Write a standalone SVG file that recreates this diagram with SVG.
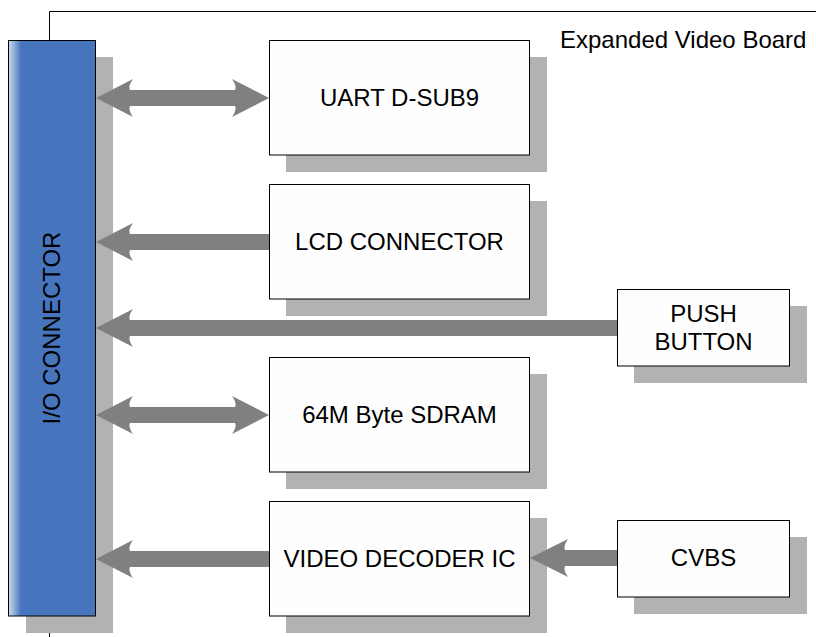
<svg xmlns="http://www.w3.org/2000/svg" width="816" height="637" viewBox="0 0 816 637">
<defs>
<linearGradient id="blueGrad" x1="8" y1="0" x2="96" y2="0" gradientUnits="userSpaceOnUse">
<stop offset="0" stop-color="#d2def0"/>
<stop offset="0.15" stop-color="#4675be"/>
<stop offset="1" stop-color="#4675be"/>
</linearGradient>
<style>
.shadow{fill:#b2b2b2;stroke:none}
.box{fill:#fefefe;stroke:#000;stroke-width:1}
.arrow{fill:#808080;stroke:none}
.lbl{font-family:"Liberation Sans",Arial,sans-serif;font-size:24px;fill:#000;text-anchor:middle}
.frame{fill:none;stroke:#000;stroke-width:1}
</style>
</defs>
<rect width="816" height="637" fill="#fff"/>
<g id="frame">
<path class="frame" d="M49.5 40 V11.5 H816"/>
<path class="frame" d="M49.5 616 V637"/>
<text x="560" y="48" class="lbl" style="text-anchor:start">Expanded Video Board</text>
</g>
<g id="io-connector">
<rect class="shadow" x="26" y="57" width="87" height="576"/>
<rect x="8.5" y="40.5" width="87" height="575.5" fill="url(#blueGrad)" stroke="#000" stroke-width="1"/>
<text class="lbl" transform="translate(60,328) rotate(-90)">I/O CONNECTOR</text>
</g>
<g id="uart">
<rect class="shadow" x="286" y="57" width="261" height="115"/>
<rect class="box" x="269.5" y="40.5" width="260" height="114.5"/>
<text class="lbl" x="399.5" y="106">UART D-SUB9</text>
</g>
<g id="lcd">
<rect class="shadow" x="286" y="201" width="261" height="115"/>
<rect class="box" x="269.5" y="184.5" width="260" height="114.5"/>
<text class="lbl" x="399.5" y="250">LCD CONNECTOR</text>
</g>
<g id="push-button">
<rect class="shadow" x="634" y="306" width="173" height="77"/>
<rect class="box" x="617.5" y="289.5" width="172" height="76.5"/>
<text class="lbl" x="703.5" y="322">PUSH</text>
<text class="lbl" x="703.5" y="350">BUTTON</text>
</g>
<g id="sdram">
<rect class="shadow" x="286" y="374" width="261" height="115"/>
<rect class="box" x="269.5" y="357.5" width="260" height="114.5"/>
<text class="lbl" x="399.5" y="423">64M Byte SDRAM</text>
</g>
<g id="video-decoder">
<rect class="shadow" x="286" y="518" width="261" height="115"/>
<rect class="box" x="269.5" y="501.5" width="260" height="114.5"/>
<text class="lbl" x="399.5" y="567">VIDEO DECODER IC</text>
</g>
<g id="cvbs">
<rect class="shadow" x="634" y="537" width="173" height="77"/>
<rect class="box" x="617.5" y="520.5" width="172" height="76.5"/>
<text class="lbl" x="703.5" y="566">CVBS</text>
</g>
<g id="connectors">
<path class="arrow" d="M96 98 L133 79 Q128 86 130 90 L235 90 Q237 86 232 79 L269 98 L232 117 Q237 110 235 106 L130 106 Q128 110 133 117 Z"/>
<path class="arrow" d="M96 242 L133 223 Q128 230 130 234 L269 234 L269 250 L130 250 Q128 254 133 261 Z"/>
<path class="arrow" d="M96 328 L133 309 Q128 316 130 320 L617 320 L617 336 L130 336 Q128 340 133 347 Z"/>
<path class="arrow" d="M96 415 L133 396 Q128 403 130 407 L235 407 Q237 403 232 396 L269 415 L232 434 Q237 427 235 423 L130 423 Q128 427 133 434 Z"/>
<path class="arrow" d="M96 559 L133 540 Q128 547 130 551 L269 551 L269 567 L130 567 Q128 571 133 578 Z"/>
<path class="arrow" d="M530 558 L568 539 Q563 546 565 550 L617 550 L617 566 L565 566 Q563 570 568 577 Z"/>
</g>
</svg>
